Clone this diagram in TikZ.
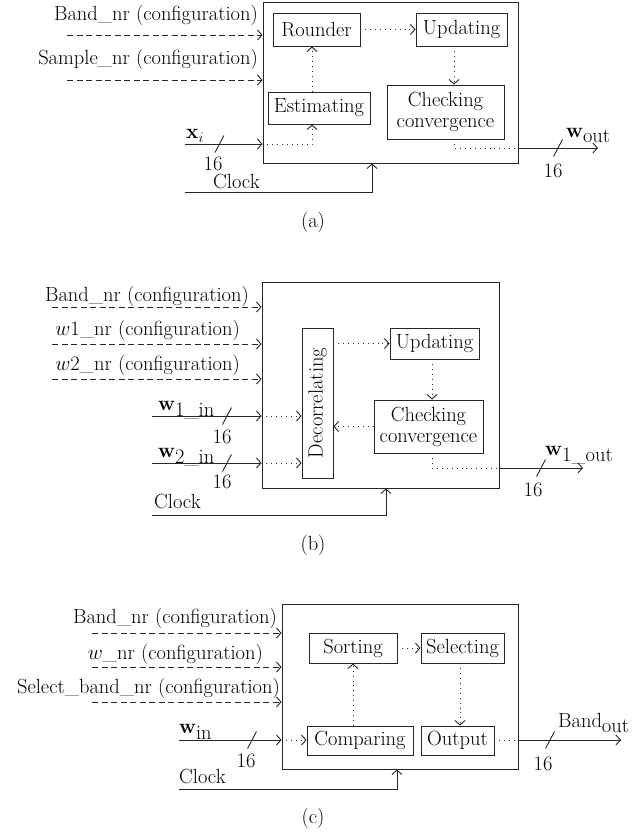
\documentclass[tikz,border=0pt]{standalone}
\usetikzlibrary{arrows.meta}
\newcommand\busmark[2]{\draw[ln] (#1-4.5,#2+8.5) -- (#1+4.5,#2-8.5);}
\begin{document}
\begin{tikzpicture}[x=1pt,y=-1pt,
  font=\fontsize{20.5}{21}\selectfont,
  >={Straight Barb[length=4.5pt,width=10pt,line width=0.9pt]},
  ln/.style={line width=0.9pt, draw=black!85},
  blk/.style={draw=black!85, line width=0.9pt, inner sep=0pt, align=center},
  sol/.style={ln,->},
  dsh/.style={ln,->,dash pattern=on 6pt off 3.5pt},
  dotl/.style={ln,line width=1pt,dash pattern=on 0.9pt off 4pt},
  lbl/.style={inner sep=0pt}]
\useasboundingbox (0,0) rectangle (635,832);

% ---------------- (a) ----------------
\node[blk, minimum width=255pt, minimum height=161pt] (A) at (390.5,82.5) {};
\node[blk, minimum width=87pt, minimum height=33pt] (rnd) at (316.5,29.5) {Rounder};
\node[blk, minimum width=91pt, minimum height=33pt] (upda) at (461.5,29.5) {Updating};
\node[blk, minimum width=102pt, minimum height=32pt] (est) at (319,108) {Estimating};
\node[blk, minimum width=117pt, minimum height=54pt] (chka) at (445.5,112) {Checking\\convergence};
\coordinate (ax1) at (312,0);
\coordinate (ax2) at (454,0);
\coordinate (axi) at (185,144);
\coordinate (aout) at (598,148);
\coordinate (aclk) at (185,192);
\coordinate (aclk2) at (372,192);

\draw[dotl,->] (rnd.east) -- (upda.west);
\draw[dotl,->] (ax1 |- est.north) -- (ax1 |- rnd.south);
\draw[dotl,->] (ax2 |- upda.south) -- (ax2 |- chka.north);
\draw[sol] (axi) -- (axi -| A.west);
\draw[dotl,->] (axi -| A.west) -- (ax1 |- axi) -- (ax1 |- est.south);
\draw[dotl] (ax2 |- chka.south) -- (ax2 |- aout) -- (aout -| A.east);
\draw[sol] (aout -| A.east) -- (aout);
\draw[sol] (aclk) -- (aclk2) -- (aclk2 |- A.south);
\coordinate (ad1) at (67,35);
\coordinate (ad2) at (67,80);
\draw[dsh] (ad1) -- (ad1 -| A.west);
\draw[dsh] (ad2) -- (ad2 -| A.west);
\busmark{219.5}{144}
\busmark{558}{148}
\node[lbl, anchor=base east] (la1) at (258,21) {Band\_nr (configuration)};
\node[lbl, anchor=base east] (la2) at (258,65) {Sample\_nr (configuration)};
\node[lbl, anchor=base west] (lxi) at (186,139) {$\mathbf{x}_{i}$};
\node[lbl, anchor=base] (la16) at (213,170) {16};
\node[lbl, anchor=base west] (laclk) at (213,188) {Clock};
\node[lbl, anchor=base west] (lwout) at (566,137) {$\mathbf{w}_{\textnormal{out}}$};
\node[lbl, anchor=base] (la16b) at (553,177) {16};
\node[lbl] (capa) at (313,222) {(a)};

% ---------------- (b) ----------------
\node[blk, minimum width=237pt, minimum height=206pt] (B) at (380.5,385) {};
\node[blk, minimum width=31pt, minimum height=150pt] (dec) at (317.5,403) {};
\node[rotate=90] (dect) at (dec) {Decorrelating};
\node[blk, minimum width=89pt, minimum height=31pt] (updb) at (434.5,343.5) {Updating};
\node[blk, minimum width=109pt, minimum height=53pt] (chkb) at (428.5,426.5) {Checking\\convergence};
\coordinate (bx2) at (432,0);
\coordinate (bw1) at (152,416);
\coordinate (bw2) at (152,463);
\coordinate (bout) at (583,468);
\coordinate (bclk) at (152,515);
\coordinate (bclk2) at (386,515);

\draw[dotl,->] (dec.east |- updb.west) -- (updb.west);
\draw[dotl,->] (bx2 |- updb.south) -- (bx2 |- chkb.north);
\draw[dotl,->] (chkb.west) -- (dec.east |- chkb.west);
\draw[sol] (bw1) -- (bw1 -| B.west);
\draw[sol] (bw2) -- (bw2 -| B.west);
\draw[dotl,->] (bw1 -| B.west) -- (bw1 -| dec.west);
\draw[dotl,->] (bw2 -| B.west) -- (bw2 -| dec.west);
\draw[dotl] (bx2 |- chkb.south) -- (bx2 |- bout) -- (bout -| B.east);
\draw[sol] (bout -| B.east) -- (bout);
\draw[sol] (bclk) -- (bclk2) -- (bclk2 |- B.south);
\coordinate (bd1) at (52,307);
\coordinate (bd2) at (52,344);
\coordinate (bd3) at (52,379);
\draw[dsh] (bd1) -- (bd1 -| B.west);
\draw[dsh] (bd2) -- (bd2 -| B.west);
\draw[dsh] (bd3) -- (bd3 -| B.west);
\busmark{227}{416}
\busmark{227}{463}
\busmark{541}{468}
\node[lbl, anchor=base east] (lb1) at (249,301) {Band\_nr (configuration)};
\node[lbl, anchor=base east] (lb2) at (240,335) {$w$1\_nr (configuration)};
\node[lbl, anchor=base east] (lb3) at (240,370) {$w$2\_nr (configuration)};
\node[lbl, anchor=base west] (lw1) at (158,410) {$\mathbf{w}_{\textnormal{1\_in}}$};
\node[lbl, anchor=base west] (lw2) at (158,457) {$\mathbf{w}_{\textnormal{2\_in}}$};
\node[lbl, anchor=base] (lb16a) at (222,443) {16};
\node[lbl, anchor=base] (lb16b) at (222,488) {16};
\node[lbl, anchor=base west] (lbclk) at (154,508) {Clock};
\node[lbl, anchor=base west] (lw1o) at (545,455) {$\mathbf{w}_{\textnormal{1\_out}}$};
\node[lbl, anchor=base] (lb16c) at (533,496) {16};
\node[lbl] (capb) at (313,545) {(b)};

% ---------------- (c) ----------------
\node[blk, minimum width=236pt, minimum height=165pt] (C) at (400,686.5) {};
\node[blk, minimum width=88pt, minimum height=30pt] (sor) at (353,648) {Sorting};
\node[blk, minimum width=83pt, minimum height=30pt] (sel) at (462.5,648) {Selecting};
\node[blk, minimum width=106pt, minimum height=29pt] (cmp) at (360,740.5) {Comparing};
\node[blk, minimum width=73pt, minimum height=29pt] (outp) at (457.5,740.5) {Output};
\coordinate (cx1) at (353,0);
\coordinate (cx2) at (460,0);
\coordinate (cwin) at (179,740);
\coordinate (cout) at (621,740);
\coordinate (cclk) at (179,789);
\coordinate (cclk2) at (397,789);

\draw[dotl,->] (sor.east) -- (sel.west);
\draw[dotl,->] (cx1 |- cmp.north) -- (cx1 |- sor.south);
\draw[dotl,->] (cx2 |- sel.south) -- (cx2 |- outp.north);
\draw[sol] (cwin) -- (cwin -| C.west);
\draw[dotl,->] (cwin -| C.west) -- (cwin -| cmp.west);
\draw[dotl] (outp.east |- cout) -- (cout -| C.east);
\draw[sol] (cout -| C.east) -- (cout);
\draw[sol] (cclk) -- (cclk2) -- (cclk2 |- C.south);
\coordinate (cd1) at (92,633);
\coordinate (cd2) at (92,667);
\coordinate (cd3) at (92,702);
\draw[dsh] (cd1) -- (cd1 -| C.west);
\draw[dsh] (cd2) -- (cd2 -| C.west);
\draw[dsh] (cd3) -- (cd3 -| C.west);
\busmark{252}{740}
\busmark{550}{740}
\node[lbl, anchor=base east] (lc1) at (277,623) {Band\_nr (configuration)};
\node[lbl, anchor=base east] (lc2) at (263,659) {$w$\_nr (configuration)};
\node[lbl, anchor=base east] (lc3) at (280,693) {Select\_band\_nr (configuration)};
\node[lbl, anchor=base west] (lwin) at (179,733) {$\mathbf{w}_{\textnormal{in}}$};
\node[lbl, anchor=base] (lc16a) at (246,767) {16};
\node[lbl, anchor=base west] (lcclk) at (179,783) {Clock};
\node[lbl, anchor=base west] (lbout) at (558,727) {Band$_{\textnormal{out}}$};
\node[lbl, anchor=base] (lc16b) at (543,770) {16};
\node[lbl] (capc) at (313,818) {(c)};
\end{tikzpicture}
\end{document}
